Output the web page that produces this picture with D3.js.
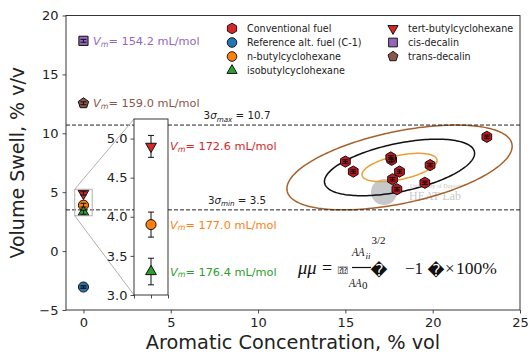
<!DOCTYPE html>
<html>
<head>
<meta charset="utf-8">
<script src="https://cdn.jsdelivr.net/npm/d3@7"></script>
<style>
  body { margin: 0; background: #fff; }
</style>
</head>
<body>
<svg id="chart" width="530" height="354" font-family="DejaVu Sans, sans-serif"></svg>
<script>
// ---------- data ----------
const xTicks = [0, 5, 10, 15, 20, 25];
const yTicks = [-5, 0, 5, 10, 15, 20];
const insetTicks = [3.0, 3.5, 4.0, 4.5, 5.0];

// conventional fuels: aromatic content (% vol) and volume swell (% v/v)
const convArom  = [15.0, 15.45, 17.65, 17.6, 18.1, 17.7, 17.95, 19.85, 19.55, 23.1];
const convSwell = [7.6, 6.75, 7.75, 7.95, 6.75, 6.1, 5.25, 7.3, 5.8, 9.7];
const convErrX  = [0.15, 0.15, 0.15, 0.15, 0.15, 0.15, 0.15, 0.15, 0.15, 0.15];
const convErrY  = [0.15, 0.15, 0.15, 0.15, 0.15, 0.15, 0.15, 0.15, 0.15, 0.15];

// single-component blends (0 % aromatics)
const blendNames = ["Reference alt. fuel (C-1)", "n-butylcyclohexane", "isobutylcyclohexane",
                    "tert-butylcyclohexane", "cis-decalin", "trans-decalin"];
const blendArom  = [0, 0, 0, 0, 0, 0];
const blendSwell = [-3.05, 3.9, 3.3, 4.9, 17.85, 12.55];
const blendErr   = [0.12, 0.16, 0.17, 0.14, 0.12, 0.12];
const blendVm    = [null, "177.0", "176.4", "172.6", "154.2", "159.0"];

// 3-sigma swell limits of conventional fuels
const sigmaNames  = ["max", "min"];
const sigmaValues = [10.7, 3.5];

// conventional-fuel distribution: mean, standard deviations, correlation, ellipse levels
const distMean = [18.1, 7.1];
const distSd   = [2.15, 1.2];
const distRho  = 0.5;
const ellipseLevels = [1, 2, 3];

// ---------- styles ----------
const blendColor = {
  "Reference alt. fuel (C-1)": "#1f77b4",
  "n-butylcyclohexane": "#ff7f0e",
  "isobutylcyclohexane": "#2ca02c",
  "tert-butylcyclohexane": "#d62728",
  "cis-decalin": "#9467bd",
  "trans-decalin": "#8c564b"
};
const blendShape = {
  "Reference alt. fuel (C-1)": "circle",
  "n-butylcyclohexane": "circle",
  "isobutylcyclohexane": "triUp",
  "tert-butylcyclohexane": "triDown",
  "cis-decalin": "square",
  "trans-decalin": "pentagon"
};
const convColor = "#c4161c";
const ellipseColor = ["#eaa032", "#111111", "#a8612a"];

// ---------- helpers ----------
function polygonPath(n, r, rot) {
  const pts = d3.range(n).map(i => {
    const a = rot + i * 2 * Math.PI / n;
    return [r * Math.sin(a), -r * Math.cos(a)];
  });
  return "M" + pts.map(p => p[0].toFixed(2) + "," + p[1].toFixed(2)).join("L") + "Z";
}
function markerPath(shape) {
  switch (shape) {
    case "circle":   return d3.symbol(d3.symbolCircle, 80)();
    case "square":   return "M-4.6,-4.6H4.6V4.6H-4.6Z";
    case "triUp":    return polygonPath(3, 6.2, 0);
    case "triDown":  return polygonPath(3, 6.2, Math.PI);
    case "pentagon": return polygonPath(5, 5.5, 0);
    case "hexagon":  return polygonPath(6, 5.6, 0);
  }
}

const svg = d3.select("#chart");
const plot = { left: 66, right: 520, top: 15.5, bottom: 310 };

const x = d3.scaleLinear().domain([-1, 25]).range([plot.left, plot.right]);
const y = d3.scaleLinear().domain([-5, 20]).range([plot.bottom, plot.top]);

// ---------- axes ----------
const xAxis = svg.append("g")
  .attr("transform", `translate(0,${plot.bottom})`)
  .call(d3.axisBottom(x).tickValues(xTicks).tickSize(3.5).tickPadding(4));
const yAxis = svg.append("g")
  .attr("transform", `translate(${plot.left},0)`)
  .call(d3.axisLeft(y).tickValues(yTicks).tickSize(3.5).tickPadding(4));
[xAxis, yAxis].forEach(a => {
  a.attr("font-family", null);
  a.select(".domain").remove();
  a.selectAll("text").attr("font-size", 13).attr("fill", "#222");
  a.selectAll("line").attr("stroke", "#222").attr("stroke-width", 0.8);
});

svg.append("text")
  .attr("x", (plot.left + plot.right) / 2).attr("y", 349)
  .attr("text-anchor", "middle").attr("font-size", 19.3).attr("fill", "#222")
  .text("Aromatic Concentration, % vol");
svg.append("text")
  .attr("transform", `translate(24,${(plot.top + plot.bottom) / 2}) rotate(-90)`)
  .attr("text-anchor", "middle").attr("font-size", 19).attr("fill", "#222")
  .text("Volume Swell, % v/v");

// ---------- plot body ----------
const body = svg.append("g");

// watermark logo
const wm = body.append("g").attr("opacity", 0.45);
wm.append("circle").attr("cx", 384).attr("cy", 192).attr("r", 13).attr("fill", "#84878a");
wm.append("text").attr("x", 410).attr("y", 188).attr("font-size", 6)
  .attr("font-family", "Liberation Serif").attr("fill", "#777").text("University of Dayton");
wm.append("text").attr("x", 409).attr("y", 200).attr("font-size", 12)
  .attr("font-family", "Liberation Serif").attr("fill", "#888").text("HEAT Lab");

// confidence ellipses
const ts = d3.range(0, 2 * Math.PI + 0.001, Math.PI / 90);
const ellLine = d3.line().x(d => x(d[0])).y(d => y(d[1]));
ellipseLevels.forEach((k, i) => {
  const pts = ts.map(t => [
    distMean[0] + k * distSd[0] * Math.cos(t),
    distMean[1] + k * distSd[1] * (distRho * Math.cos(t) + Math.sqrt(1 - distRho * distRho) * Math.sin(t))
  ]);
  body.append("path").attr("d", ellLine(pts))
    .attr("fill", "none").attr("stroke", ellipseColor[i]).attr("stroke-width", 1.5);
});

// 3-sigma limits
sigmaValues.forEach((v, i) => {
  body.append("line")
    .attr("x1", plot.left).attr("x2", plot.right).attr("y1", y(v)).attr("y2", y(v))
    .attr("stroke", "#222").attr("stroke-width", 1).attr("stroke-dasharray", "4,2");
  const t = body.append("text").attr("x", 237).attr("y", y(v) - 6)
    .attr("text-anchor", "middle").attr("font-size", 10.3).attr("fill", "#222");
  t.append("tspan").text("3");
  t.append("tspan").attr("font-style", "italic").text("σ");
  t.append("tspan").attr("font-style", "italic").attr("font-size", 7.2).attr("dy", 2.5).text(sigmaNames[i]);
  t.append("tspan").attr("dy", -2.5).text(" = " + v.toFixed(1));
});

// error bar helper
function errorBar(g, px, py, ex, ey, sx, sy, cap) {
  if (ey > 0) {
    g.append("line").attr("x1", sx(px)).attr("x2", sx(px)).attr("y1", sy(py - ey)).attr("y2", sy(py + ey));
    [py - ey, py + ey].forEach(v => g.append("line")
      .attr("x1", sx(px) - cap).attr("x2", sx(px) + cap).attr("y1", sy(v)).attr("y2", sy(v)));
  }
  if (ex > 0) {
    g.append("line").attr("x1", sx(px - ex)).attr("x2", sx(px + ex)).attr("y1", sy(py)).attr("y2", sy(py));
  }
}

// conventional fuels
const convG = body.append("g");
convArom.forEach((a, i) => {
  convG.append("path").attr("d", markerPath("hexagon"))
    .attr("transform", `translate(${x(a)},${y(convSwell[i])})`)
    .attr("fill", convColor).attr("stroke", "#111").attr("stroke-width", 1);
});
const convErrG = body.append("g").attr("stroke", "#111").attr("stroke-width", 1);
convArom.forEach((a, i) => errorBar(convErrG, a, convSwell[i], convErrX[i], convErrY[i], x, y, 3));

// blends at 0 % aromatics
const blendG = body.append("g");
blendNames.forEach((n, i) => {
  blendG.append("path").attr("d", markerPath(blendShape[n]))
    .attr("transform", `translate(${x(blendArom[i])},${y(blendSwell[i])})`)
    .attr("fill", blendColor[n]).attr("stroke", "#111").attr("stroke-width", 1);
});
const blendErrG = body.append("g").attr("stroke", "#111").attr("stroke-width", 1);
blendNames.forEach((n, i) => errorBar(blendErrG, blendArom[i], blendSwell[i], 0, blendErr[i], x, y, 3));
// blue reference point shows the cap line across it
errorBar(blendErrG, blendArom[0], blendSwell[0], 0.17, 0, x, y, 3);

// molar-volume labels
function vmLabel(g, px, py, vm, color, size) {
  const t = g.append("text").attr("x", px).attr("y", py).attr("font-size", size).attr("fill", color)
    .attr("dominant-baseline", "central");
  t.append("tspan").attr("font-style", "italic").text("V");
  t.append("tspan").attr("font-style", "italic").attr("font-size", size * 0.7).attr("dy", size * 0.25).text("m");
  t.append("tspan").attr("dy", -size * 0.25).text("= " + vm + " mL/mol");
}
[4, 5].forEach(i => vmLabel(body, 93, y(blendSwell[i]), blendVm[i], blendColor[blendNames[i]], 11.3));

// ---------- frame ----------
svg.append("rect")
  .attr("x", plot.left).attr("y", plot.top)
  .attr("width", plot.right - plot.left).attr("height", plot.bottom - plot.top)
  .attr("fill", "none").attr("stroke", "#222").attr("stroke-width", 0.9);

// ---------- legend ----------
const legendRows = [
  ["Conventional fuel", "hexagon", convColor],
  ...blendNames.map(n => [n, blendShape[n], blendColor[n]])
];
const leg = svg.append("g");
legendRows.forEach((r, i) => {
  const col = i < 4 ? 0 : 1;
  const row = i < 4 ? i : i - 4;
  const mx = col === 0 ? 232 : 393;
  const my = 28.5 + row * 14;
  const fill = r[0] === "Conventional fuel" ? "#d62728" : r[2];
  leg.append("path").attr("d", markerPath(r[1]))
    .attr("transform", `translate(${mx},${my}) scale(0.95)`)
    .attr("fill", fill).attr("stroke", "#111").attr("stroke-width", 1);
  leg.append("text").attr("x", mx + 15).attr("y", my).attr("dominant-baseline", "central")
    .attr("font-size", 9.6).attr("fill", "#222").text(r[0]);
});

// ---------- zoomed inset ----------
const insetX = d3.scaleLinear().domain([-0.5, 0.5]).range([134, 168]);
const insetY = d3.scaleLinear().domain([3.0, 5.25]).range([295, 119]);

// region marker on the main axes and connectors
svg.append("rect")
  .attr("x", x(-0.5)).attr("y", y(5.25))
  .attr("width", x(0.5) - x(-0.5)).attr("height", y(3.0) - y(5.25))
  .attr("fill", "none").attr("stroke", "#b0b0b0").attr("stroke-width", 1);
svg.append("line").attr("x1", x(-0.5)).attr("y1", y(5.25)).attr("x2", insetX(-0.5)).attr("y2", insetY(5.25))
  .attr("stroke", "#b0b0b0").attr("stroke-width", 1);
svg.append("line").attr("x1", x(-0.5)).attr("y1", y(3.0)).attr("x2", insetX(-0.5)).attr("y2", insetY(3.0))
  .attr("stroke", "#b0b0b0").attr("stroke-width", 1);

const inset = svg.append("g");
inset.append("rect")
  .attr("x", insetX(-0.5)).attr("y", insetY(5.25))
  .attr("width", insetX(0.5) - insetX(-0.5)).attr("height", insetY(3.0) - insetY(5.25))
  .attr("fill", "#fff").attr("stroke", "#222").attr("stroke-width", 0.9);
const iyAxis = inset.append("g").attr("transform", `translate(${insetX(-0.5)},0)`)
  .call(d3.axisLeft(insetY).tickValues(insetTicks).tickFormat(d3.format(".1f")).tickSize(3.5).tickPadding(3));
const ixAxis = inset.append("g").attr("transform", `translate(0,${insetY(3.0)})`)
  .call(d3.axisBottom(insetX).tickValues([-0.5, 0, 0.5]).tickFormat("").tickSize(3.5));
[iyAxis, ixAxis].forEach(a => {
  a.attr("font-family", null);
  a.select(".domain").remove();
  a.selectAll("text").attr("font-size", 13).attr("fill", "#222");
  a.selectAll("line").attr("stroke", "#222").attr("stroke-width", 0.8);
});

const insetIdx = [3, 1, 2];
const insetErrG = inset.append("g").attr("stroke", "#111").attr("stroke-width", 1);
insetIdx.forEach(i => errorBar(insetErrG, blendArom[i], blendSwell[i], 0, blendErr[i], insetX, insetY, 3));
insetIdx.forEach(i => {
  const n = blendNames[i];
  inset.append("path").attr("d", markerPath(blendShape[n]))
    .attr("transform", `translate(${insetX(blendArom[i])},${insetY(blendSwell[i])})`)
    .attr("fill", blendColor[n]).attr("stroke", "#111").attr("stroke-width", 1);
  vmLabel(inset, 170, insetY(blendSwell[i]), blendVm[i], blendColor[n], 11.3);
});

// ---------- swell equation ----------
const eq = svg.append("g").attr("fill", "#111").attr("font-family", "Liberation Serif, serif");
eq.append("text").attr("x", 298).attr("y", 274).attr("font-size", 18.5).attr("font-style", "italic").text("μμ");
eq.append("text").attr("x", 322).attr("y", 274).attr("font-size", 18).text("=");
eq.append("text").attr("x", 338).attr("y", 273).attr("font-size", 8)
  .attr("font-family", "DejaVu Sans Mono, DejaVu Sans").text("⍰⍰");
eq.append("line").attr("x1", 352).attr("x2", 371).attr("y1", 267.5).attr("y2", 267.5)
  .attr("stroke", "#111").attr("stroke-width", 1.2);
// numerator and denominator, drawn in a narrow italic
eq.append("text").attr("transform", "translate(352,256) scale(0.76,1)")
  .attr("font-size", 13.5).attr("font-style", "italic").text("AA");
eq.append("text").attr("x", 365.5).attr("y", 258.5).attr("font-size", 9).attr("font-style", "italic").text("ii");
eq.append("text").attr("x", 371.5).attr("y", 244).attr("font-size", 11).text("3/2");
eq.append("text").attr("transform", "translate(349,287) scale(0.76,1)")
  .attr("font-size", 13.5).attr("font-style", "italic").text("AA");
eq.append("text").attr("x", 362).attr("y", 288.5).attr("font-size", 11).text("0");
eq.append("text").attr("x", 379).attr("y", 276).attr("text-anchor", "middle")
  .attr("font-family", "DejaVu Sans").attr("font-size", 16.5).text("\uFFFD");
eq.append("text").attr("x", 405).attr("y", 274).attr("font-size", 17).text("−1");
eq.append("text").attr("x", 436).attr("y", 276).attr("text-anchor", "middle")
  .attr("font-family", "DejaVu Sans").attr("font-size", 16.5).text("\uFFFD");
eq.append("text").attr("x", 445).attr("y", 274).attr("font-size", 17).text("×");
eq.append("text").attr("x", 456).attr("y", 274).attr("font-size", 17.5).text("100%");
</script>
</body>
</html>
